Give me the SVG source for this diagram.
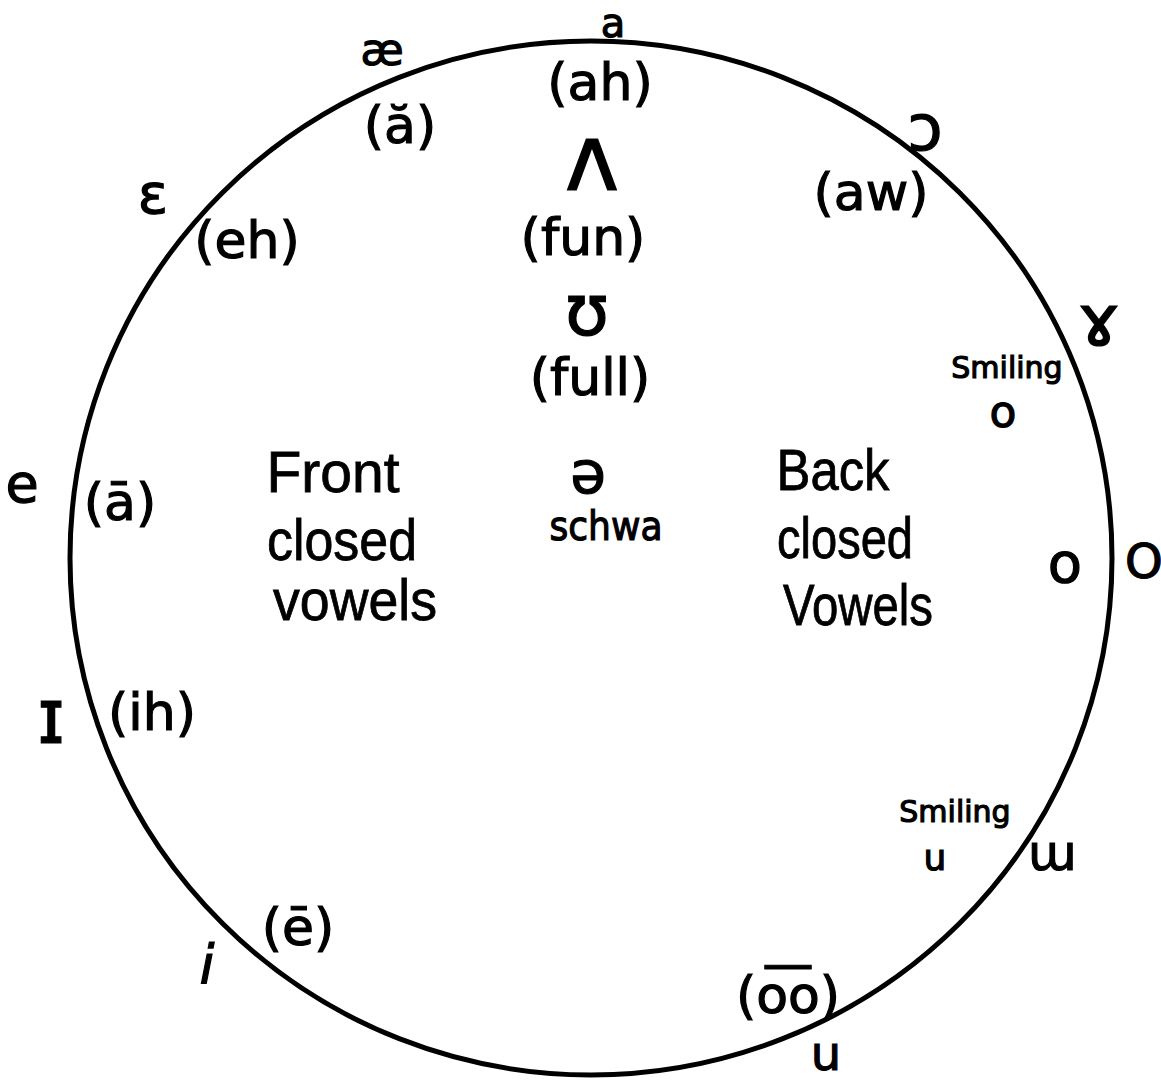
<svg xmlns="http://www.w3.org/2000/svg" width="1161" height="1080" viewBox="0 0 1161 1080">
<style>
text{font-family:"DejaVu Sans","Liberation Sans",sans-serif;fill:#000;text-anchor:middle;stroke:#000;stroke-width:1.2}
.s{font-size:30px}
.m{font-size:44px}
.l{font-size:52px}
.w{font-family:"Liberation Sans","DejaVu Sans",sans-serif;font-size:58px;stroke-width:0.8}
</style>
<rect width="1161" height="1080" fill="#fff"/>
<ellipse cx="591" cy="558" rx="521" ry="517" fill="none" stroke="#000" stroke-width="5"/>
<g id="v-a"><text x="613" y="37" font-size="40">a</text><text class="l" x="600" y="100">(ah)</text></g>
<g id="v-ae"><text class="m" x="382" y="65">æ</text><text class="l" x="400" y="143">(ă)</text></g>
<g id="v-wedge"><text x="592" y="190" font-size="92" stroke-width="0">ʌ</text><text class="l" x="583" y="255">(fun)</text></g>
<g id="v-upsilon"><text x="587" y="335" font-size="72" stroke-width="0">ʊ</text><text class="l" x="590" y="395">(full)</text></g>
<g id="v-open-o"><text x="925" y="150" font-size="64">ɔ</text><text class="l" x="871" y="210">(aw)</text></g>
<g id="v-ram"><text x="1099" y="345" font-size="72" stroke-width="0.6">ɤ</text><text class="s" x="1007" y="378">Smiling</text><text x="1003" y="427" font-size="44">o</text></g>
<g id="v-epsilon"><text x="153" y="213" font-size="56">ɛ</text><text class="l" x="247" y="258">(eh)</text></g>
<g id="v-e"><text x="22" y="502" font-size="54">e</text><text class="l" x="120" y="520">(ā)</text></g>
<g id="front"><text class="w" x="333" y="492" textLength="133" lengthAdjust="spacingAndGlyphs">Front</text><text class="w" x="342" y="560" textLength="150" lengthAdjust="spacingAndGlyphs">closed</text><text class="w" x="355" y="620" textLength="164" lengthAdjust="spacingAndGlyphs">vowels</text></g>
<g id="schwa"><text x="588" y="493" font-size="58">ə</text><text x="606" y="540" font-size="40" textLength="113" lengthAdjust="spacingAndGlyphs">schwa</text></g>
<g id="back"><text class="w" x="833" y="490" textLength="113" lengthAdjust="spacingAndGlyphs">Back</text><text class="w" x="845" y="558" textLength="136" lengthAdjust="spacingAndGlyphs">closed</text><text class="w" x="858" y="625" textLength="150" lengthAdjust="spacingAndGlyphs">Vowels</text></g>
<g id="v-o"><text x="1065" y="582" font-size="56">o</text><text x="1144" y="578" font-size="48">O</text></g>
<g id="v-I"><text x="51" y="743" font-size="76" stroke-width="0">ɪ</text><text class="l" x="152" y="730">(ih)</text></g>
<g id="v-u-smiling"><text class="s" x="955" y="822">Smiling</text><text x="935" y="870" font-size="36">u</text><text x="1052" y="870" font-size="50">ɯ</text></g>
<g id="v-i"><text class="l" x="298" y="945">(ē)</text><text x="207" y="983" font-size="54" font-style="italic">i</text></g>
<g id="v-u"><text class="l" x="788" y="1013">(o͞o)</text><text x="826" y="1070" font-size="48">u</text></g>
</svg>
